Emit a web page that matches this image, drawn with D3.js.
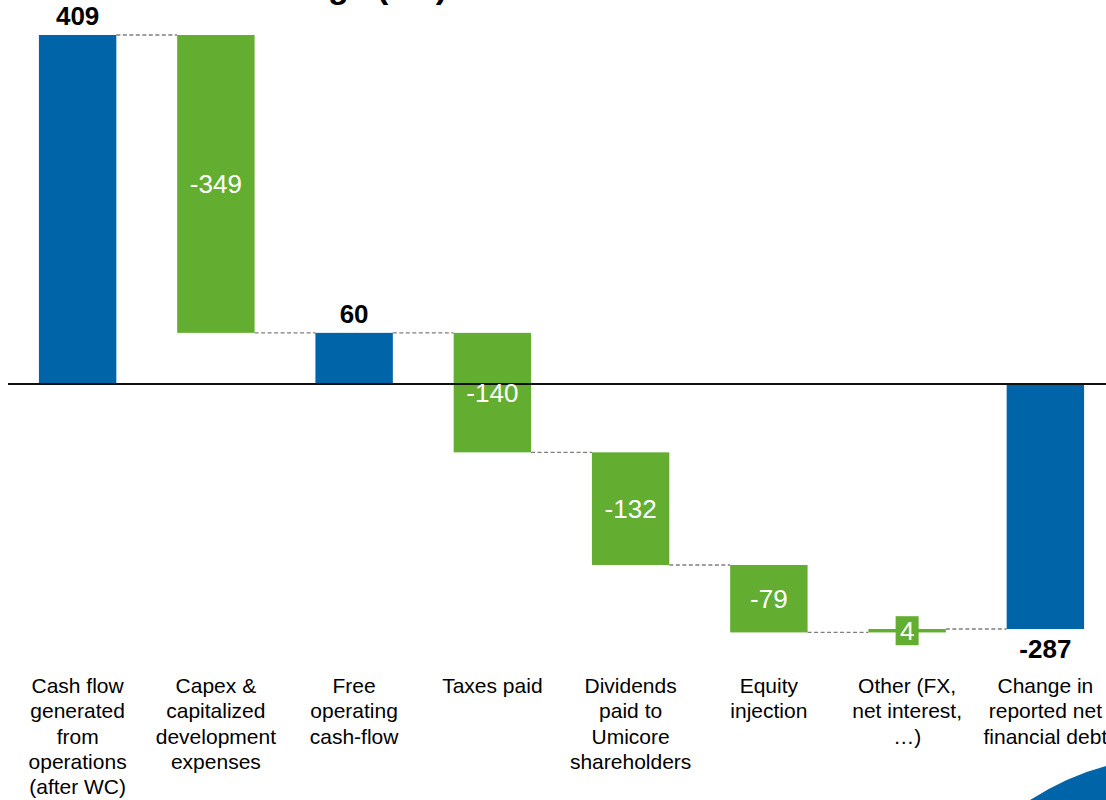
<!DOCTYPE html>
<html><head><meta charset="utf-8">
<script src="https://cdn.jsdelivr.net/npm/d3@7"></script>
<style>
html,body{margin:0;padding:0;background:#fff;}
svg{display:block;font-family:"Liberation Sans",Arial,sans-serif;}
</style></head>
<body>
<svg id="c" width="1106" height="800"></svg>
<script>
const categories = [
  ["Cash flow","generated","from","operations","(after WC)"],
  ["Capex &","capitalized","development","expenses"],
  ["Free","operating","cash-flow"],
  ["Taxes paid"],
  ["Dividends","paid to","Umicore","shareholders"],
  ["Equity","injection"],
  ["Other (FX,","net interest,","…)"],
  ["Change in","reported net","financial debt"]
];
const values = [409, -349, 60, -140, -132, -79, 4, -287];
const isTotal = [true, false, true, false, false, false, false, true];
const valueLabels = ["409","-349","60","-140","-132","-79","4","-287"];
const titleText = "Net financial debt change (€M)";

const blue = "#0064A8", green = "#63AE31";
const svg = d3.select("#c");
const ids = categories.map((d,i)=>"c"+i);
const x = d3.scaleBand().domain(ids).range([8.5,1114.5]).paddingInner(0.44).paddingOuter(0.22);
const y = d3.scaleLinear().domain([-287,409]).range([629,35]);

let cum = 0;
const bars = values.map((v,i)=>{
  let start, end;
  if (isTotal[i]) { start = 0; end = v; cum = v; }
  else { start = cum; end = cum + v; cum = end; }
  return {id:ids[i], v, start, end, total:isTotal[i], label:valueLabels[i]};
});

// title (cut off at the top edge as in the reference)
svg.append("text").attr("x",447).attr("y",-2).attr("text-anchor","end")
  .attr("font-size",34).attr("font-weight","bold").text(titleText);

// swoosh
svg.append("path").attr("d","M1030,800 Q1068,776 1106,766 L1106,800 Z").attr("fill",blue);

// connectors
for (let i=0;i<bars.length-1;i++){
  const lvl = bars[i].end;
  svg.append("line")
    .attr("x1",x(bars[i].id)+x.bandwidth()).attr("x2",x(bars[i+1].id))
    .attr("y1",y(lvl)).attr("y2",y(lvl))
    .attr("stroke","#7f7f7f").attr("stroke-width",1.3).attr("stroke-dasharray","4,2.5");
}

// bars
svg.selectAll("rect.bar").data(bars).join("rect").attr("class","bar")
  .attr("x",d=>x(d.id)).attr("width",x.bandwidth())
  .attr("y",d=>y(Math.max(d.start,d.end)))
  .attr("height",d=>Math.max(3,Math.abs(y(d.start)-y(d.end))))
  .attr("fill",d=>d.total?blue:green);

// zero line
svg.append("line").attr("x1",8).attr("x2",1106).attr("y1",y(0)).attr("y2",y(0))
  .attr("stroke","#111").attr("stroke-width",2);

// labels
bars.forEach(d=>{
  const cx = x(d.id)+x.bandwidth()/2;
  if (d.total){
    const ty = d.v>=0 ? y(d.end)-10 : y(d.end)+29;
    svg.append("text").attr("x",cx).attr("y",ty).attr("text-anchor","middle")
      .attr("font-size",26).attr("font-weight","bold").attr("fill","#000").text(d.label);
  } else {
    const cy = (y(d.start)+y(d.end))/2;
    if (Math.abs(y(d.start)-y(d.end))<30){
      svg.append("rect").attr("x",cx-11.5).attr("y",cy-14.5).attr("width",23).attr("height",29).attr("fill",green);
    }
    svg.append("text").attr("x",cx).attr("y",cy).attr("dy","0.36em").attr("text-anchor","middle")
      .attr("font-size",26).attr("fill","#fff").text(d.label);
  }
});

// category labels
categories.forEach((lines,i)=>{
  const cx = x(ids[i])+x.bandwidth()/2;
  const t = svg.append("text").attr("x",cx).attr("y",693).attr("text-anchor","middle")
    .attr("font-size",21).attr("fill","#000");
  lines.forEach((l,j)=>t.append("tspan").attr("x",cx).attr("y",693+j*25.3).text(l));
});
</script>
</body></html>
